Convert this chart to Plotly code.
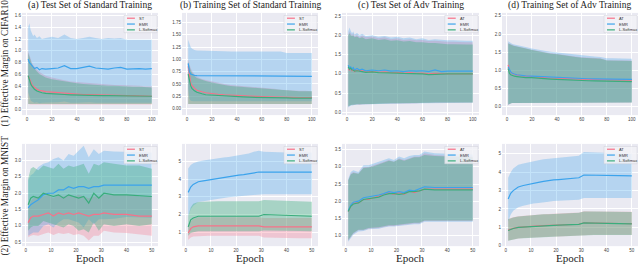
import plotly.graph_objects as go

# ---------------- data ----------------
EPOCH_TOP = [1, 2, 3, 4, 5, 6, 8, 10, 12, 15, 20, 25, 30, 35, 40, 45, 50, 55, 60, 65, 70, 75, 80, 85, 90, 95, 100]
EPOCH_BOT = [1, 2, 3, 5, 7, 9, 11, 13, 15, 17, 19, 21, 23, 25, 27, 29, 31, 35, 40, 45, 50]

TITLES = ["(a) Test Set of Standard Training", "(b) Training Set of Standard Training",
          "(c) Test Set of Adv Training", "(d) Training Set of Adv Training"]
ROW_LABELS = ["(1) Effective Margin on CIFAR10", "(2) Effective Margin on MNIST"]
X_LABEL = "Epoch"
NAMES_STD = ["ST", "EMR", "L-Softmax"]
NAMES_ADV = ["AT", "EMR", "L-Softmax"]

# panel (a)
a_st_mean = [0.58,0.52,0.47,0.43,0.40,0.38,0.35,0.33,0.32,0.31,0.30,0.29,0.28,0.28,0.27,0.26,0.26,0.255,0.25,0.25,0.25,0.245,0.24,0.24,0.24,0.235,0.23]
a_st_up   = [1.00,0.92,0.85,0.80,0.76,0.73,0.68,0.64,0.61,0.58,0.55,0.52,0.50,0.48,0.47,0.46,0.45,0.44,0.44,0.43,0.42,0.42,0.42,0.41,0.41,0.40,0.40]
a_st_lo   = [0.10,0.09,0.09,0.09,0.09,0.09,0.09,0.09,0.09,0.09,0.09,0.09,0.09,0.09,0.09,0.09,0.09,0.09,0.09,0.09,0.09,0.09,0.09,0.09,0.09,0.09,0.09]
a_emr_mean = [0.86,0.80,0.78,0.75,0.73,0.70,0.72,0.68,0.70,0.69,0.70,0.71,0.75,0.70,0.70,0.72,0.74,0.71,0.70,0.69,0.71,0.72,0.69,0.70,0.70,0.69,0.70]
a_emr_up   = [1.40,1.47,1.35,1.30,1.25,1.28,1.22,1.25,1.20,1.22,1.24,1.22,1.28,1.22,1.20,1.22,1.24,1.22,1.20,1.22,1.21,1.22,1.19,1.19,1.19,1.19,1.19]
a_emr_lo   = [0.30,0.20,0.16,0.14,0.13,0.12,0.13,0.11,0.12,0.12,0.12,0.13,0.14,0.12,0.12,0.13,0.13,0.12,0.12,0.12,0.12,0.12,0.11,0.12,0.12,0.11,0.12]
a_ls_mean = [0.58,0.50,0.44,0.40,0.37,0.35,0.32,0.30,0.29,0.28,0.27,0.265,0.26,0.255,0.25,0.25,0.25,0.245,0.24,0.24,0.24,0.24,0.24,0.235,0.23,0.23,0.23]
a_ls_up   = [0.97,0.90,0.82,0.77,0.73,0.70,0.65,0.61,0.58,0.55,0.52,0.50,0.48,0.46,0.45,0.44,0.43,0.42,0.42,0.41,0.41,0.40,0.40,0.39,0.39,0.39,0.38]
a_ls_lo   = [0.10,0.10,0.10,0.10,0.10,0.10,0.10,0.10,0.10,0.10,0.10,0.10,0.10,0.10,0.10,0.10,0.10,0.10,0.10,0.10,0.10,0.10,0.10,0.10,0.10,0.10,0.10]

# panel (b)
b_st_mean = [0.86,0.62,0.52,0.47,0.43,0.41,0.37,0.35,0.34,0.32,0.30,0.29,0.28,0.27,0.26,0.255,0.25,0.245,0.24,0.235,0.23,0.23,0.225,0.225,0.22,0.22,0.22]
b_st_up   = [1.01,0.90,0.82,0.77,0.72,0.69,0.65,0.62,0.60,0.58,0.55,0.52,0.50,0.48,0.47,0.45,0.44,0.43,0.42,0.41,0.40,0.38,0.37,0.37,0.36,0.36,0.35]
b_st_lo   = [0.09,0.09,0.09,0.09,0.09,0.09,0.09,0.09,0.09,0.09,0.09,0.09,0.09,0.09,0.09,0.09,0.09,0.09,0.09,0.09,0.09,0.09,0.09,0.09,0.09,0.09,0.09]
b_emr_mean = [0.92,0.75,0.70,0.69,0.68,0.675,0.67,0.67,0.665,0.665,0.665,0.665,0.66,0.66,0.66,0.66,0.66,0.66,0.66,0.66,0.66,0.66,0.655,0.655,0.655,0.655,0.655]
b_emr_up   = [1.40,1.30,1.25,1.22,1.20,1.19,1.18,1.18,1.17,1.17,1.17,1.165,1.165,1.16,1.16,1.16,1.16,1.16,1.16,1.16,1.16,1.16,1.13,1.13,1.13,1.13,1.13]
b_emr_lo   = [0.40,0.20,0.16,0.15,0.15,0.15,0.15,0.15,0.15,0.15,0.15,0.15,0.15,0.15,0.15,0.15,0.15,0.15,0.15,0.15,0.15,0.15,0.15,0.15,0.15,0.15,0.15]
b_ls_mean = [0.70,0.55,0.46,0.41,0.38,0.36,0.33,0.31,0.30,0.28,0.27,0.26,0.25,0.245,0.24,0.235,0.23,0.23,0.225,0.22,0.22,0.215,0.215,0.21,0.21,0.21,0.21]
b_ls_up   = [0.95,0.85,0.78,0.73,0.69,0.66,0.62,0.60,0.58,0.56,0.53,0.50,0.48,0.46,0.45,0.44,0.43,0.42,0.41,0.40,0.39,0.37,0.36,0.36,0.35,0.35,0.35]
b_ls_lo   = [0.09,0.09,0.09,0.09,0.09,0.09,0.09,0.09,0.09,0.09,0.09,0.09,0.09,0.09,0.09,0.09,0.09,0.09,0.09,0.09,0.09,0.09,0.09,0.09,0.09,0.09,0.09]

# panel (c)
c_at_mean = [1.12,1.10,1.14,1.08,1.12,1.06,1.10,1.07,1.09,1.05,1.06,1.04,1.05,1.03,1.04,1.02,1.03,1.01,1.02,1.00,1.01,1.00,1.00,1.00,1.00,1.00,1.00]
c_at_up   = [2.00,2.10,2.05,2.00,2.05,1.98,2.02,1.95,2.00,1.95,1.97,1.92,1.95,1.90,1.92,1.88,1.90,1.87,1.88,1.85,1.86,1.84,1.83,1.83,1.82,1.82,1.82]
c_at_lo   = [0.15,0.18,0.20,0.20,0.19,0.20,0.21,0.20,0.21,0.22,0.22,0.23,0.23,0.23,0.24,0.24,0.24,0.24,0.25,0.25,0.25,0.25,0.25,0.26,0.26,0.26,0.26]
c_emr_mean = [1.22,1.15,1.18,1.12,1.16,1.10,1.14,1.10,1.12,1.08,1.10,1.08,1.10,1.07,1.08,1.06,1.08,1.07,1.08,1.06,1.10,1.06,1.07,1.07,1.07,1.07,1.07]
c_emr_up   = [2.10,2.20,2.12,2.05,2.10,2.02,2.06,2.00,2.04,1.98,2.00,1.96,1.98,1.94,1.96,1.92,1.94,1.90,1.92,1.88,1.90,1.88,1.87,1.87,1.86,1.86,1.86]
c_emr_lo   = [0.13,0.16,0.18,0.18,0.18,0.19,0.20,0.20,0.20,0.21,0.21,0.22,0.22,0.22,0.23,0.23,0.23,0.23,0.24,0.24,0.24,0.24,0.25,0.25,0.25,0.25,0.25]
c_ls_mean = [1.18,1.12,1.15,1.10,1.10,1.07,1.08,1.06,1.06,1.04,1.05,1.03,1.03,1.02,1.02,1.01,1.01,1.00,1.00,0.98,0.99,1.00,1.00,1.00,1.00,1.00,1.00]
c_ls_up   = [2.00,2.05,2.00,1.98,2.00,1.95,1.97,1.92,1.95,1.90,1.92,1.88,1.90,1.86,1.87,1.84,1.85,1.82,1.82,1.80,1.80,1.78,1.77,1.77,1.76,1.76,1.76]
c_ls_lo   = [0.16,0.18,0.20,0.20,0.20,0.21,0.21,0.21,0.22,0.22,0.22,0.23,0.23,0.24,0.24,0.24,0.25,0.25,0.25,0.25,0.26,0.26,0.26,0.26,0.26,0.26,0.26]

# panel (d)
d_at_mean = [1.15,1.00,0.95,0.92,0.90,0.89,0.87,0.86,0.85,0.84,0.82,0.81,0.80,0.79,0.78,0.775,0.77,0.765,0.76,0.755,0.75,0.75,0.74,0.74,0.735,0.735,0.73]
d_at_up   = [1.75,1.73,1.71,1.70,1.69,1.68,1.66,1.65,1.63,1.61,1.57,1.53,1.50,1.47,1.45,1.42,1.40,1.38,1.36,1.35,1.34,1.33,1.28,1.28,1.27,1.27,1.27]
d_at_lo   = [0.05,0.08,0.09,0.10,0.10,0.10,0.10,0.10,0.11,0.11,0.11,0.11,0.11,0.11,0.11,0.11,0.12,0.12,0.12,0.12,0.12,0.12,0.12,0.12,0.12,0.12,0.12]
d_emr_mean = [1.10,1.00,0.96,0.93,0.91,0.90,0.88,0.87,0.86,0.85,0.84,0.83,0.82,0.81,0.80,0.79,0.785,0.78,0.775,0.77,0.765,0.76,0.755,0.75,0.75,0.75,0.75]
d_emr_up   = [1.80,1.77,1.75,1.73,1.72,1.71,1.69,1.68,1.66,1.64,1.60,1.56,1.54,1.51,1.49,1.46,1.44,1.42,1.40,1.39,1.38,1.37,1.33,1.33,1.33,1.32,1.32]
d_emr_lo   = [0.05,0.08,0.09,0.10,0.10,0.10,0.10,0.10,0.11,0.11,0.11,0.11,0.11,0.11,0.11,0.11,0.12,0.12,0.12,0.12,0.12,0.12,0.12,0.12,0.12,0.12,0.12]
d_ls_mean = [1.05,0.92,0.88,0.86,0.85,0.84,0.83,0.82,0.81,0.80,0.80,0.78,0.77,0.76,0.75,0.74,0.73,0.725,0.72,0.715,0.71,0.705,0.70,0.70,0.695,0.69,0.69]
d_ls_up   = [1.74,1.72,1.70,1.69,1.68,1.67,1.65,1.64,1.62,1.60,1.56,1.52,1.49,1.46,1.44,1.41,1.39,1.37,1.35,1.34,1.33,1.32,1.27,1.27,1.26,1.26,1.26]
d_ls_lo   = [0.06,0.08,0.09,0.10,0.10,0.10,0.10,0.10,0.11,0.11,0.11,0.11,0.11,0.11,0.11,0.11,0.12,0.12,0.12,0.12,0.12,0.12,0.12,0.12,0.12,0.12,0.12]

# panel (a2) MNIST test, standard
a2_st_mean = [1.10,1.25,1.30,1.30,1.35,1.40,1.30,1.40,1.35,1.40,1.35,1.40,1.35,1.30,1.35,1.35,1.40,1.35,1.35,1.30,1.30]
a2_st_up   = [1.50,1.75,1.85,1.90,1.90,1.95,1.85,1.95,1.90,1.95,1.90,1.95,1.90,1.85,1.90,1.90,1.95,1.95,1.95,1.90,1.90]
a2_st_lo   = [0.65,0.70,0.72,0.70,0.75,0.80,0.72,0.78,0.75,0.78,0.72,0.75,0.70,0.55,0.70,0.70,0.85,0.80,0.78,0.75,0.70]
a2_emr_mean = [1.55,1.65,1.70,1.80,1.95,2.00,2.00,2.10,2.10,2.20,2.15,2.20,2.20,2.15,2.20,2.20,2.25,2.25,2.27,2.27,2.25]
a2_emr_up   = [2.40,2.55,2.60,2.80,2.90,2.95,3.05,3.10,3.00,3.20,3.15,3.30,3.45,3.10,3.35,3.20,3.30,3.28,3.27,3.27,3.25]
a2_emr_lo   = [0.70,0.75,0.80,0.80,1.00,1.05,0.95,1.10,1.20,1.20,1.15,1.10,0.95,1.20,1.05,1.20,1.20,1.22,1.27,1.27,1.25]
a2_ls_mean = [1.65,1.85,1.90,1.85,2.00,1.95,1.90,1.95,1.85,1.95,1.90,1.85,1.90,1.70,2.00,1.85,2.00,1.95,1.95,1.93,1.90]
a2_ls_up   = [2.45,2.75,2.80,2.70,2.85,2.80,2.75,2.90,2.75,2.85,2.80,2.85,2.90,2.60,2.90,2.85,2.95,2.90,2.85,2.85,2.75]
a2_ls_lo   = [0.85,0.95,1.00,1.00,1.15,1.10,1.05,1.00,0.95,1.05,1.00,0.85,0.90,0.80,1.10,0.85,1.05,1.00,1.05,1.00,1.05]

# panel (b2)
b2_st_mean = [0.95,1.20,1.30,1.35,1.35,1.35,1.35,1.35,1.35,1.35,1.35,1.35,1.35,1.35,1.35,1.35,1.30,1.30,1.30,1.30,1.30]
b2_st_up   = [1.30,1.60,1.75,1.85,1.85,1.85,1.85,1.85,1.85,1.85,1.85,1.85,1.85,1.85,1.85,1.85,1.80,1.80,1.80,1.80,1.80]
b2_st_lo   = [0.55,0.70,0.75,0.78,0.80,0.80,0.80,0.80,0.80,0.80,0.80,0.80,0.80,0.80,0.80,0.80,0.70,0.68,0.67,0.66,0.65]
b2_emr_mean = [3.25,3.55,3.70,3.85,3.90,3.95,4.00,4.05,4.10,4.15,4.18,4.22,4.25,4.30,4.35,4.40,4.40,4.40,4.40,4.40,4.40]
b2_emr_up   = [4.60,4.80,4.90,5.00,5.05,5.10,5.15,5.20,5.22,5.25,5.30,5.33,5.38,5.45,5.55,5.60,5.55,5.52,5.50,5.50,5.50]
b2_emr_lo   = [1.90,2.30,2.50,2.70,2.75,2.80,2.85,2.90,2.95,2.98,3.00,3.03,3.05,3.08,3.10,3.12,3.15,3.15,3.15,3.15,3.15]
b2_ls_mean = [1.30,1.70,1.80,1.90,1.90,1.90,1.90,1.90,1.90,1.90,1.90,1.90,1.90,1.90,1.90,1.90,2.00,1.97,1.95,1.92,1.90]
b2_ls_up   = [1.90,2.40,2.60,2.70,2.72,2.74,2.75,2.75,2.75,2.75,2.75,2.75,2.75,2.75,2.75,2.75,2.82,2.80,2.78,2.75,2.72]
b2_ls_lo   = [0.80,0.95,1.00,1.05,1.05,1.05,1.05,1.05,1.05,1.05,1.05,1.05,1.05,1.05,1.05,1.05,1.10,1.08,1.07,1.06,1.05]

# panel (c2)
c2_at_mean = [1.70,1.85,1.95,1.95,2.05,2.05,2.10,2.15,2.20,2.25,2.20,2.25,2.20,2.30,2.25,2.30,2.35,2.35,2.35,2.35,2.35]
c2_at_up   = [2.60,2.80,2.85,2.80,3.00,3.00,3.05,3.10,3.15,3.20,3.15,3.25,3.20,3.25,3.30,3.30,3.40,3.35,3.32,3.30,3.30]
c2_at_lo   = [0.85,0.95,1.05,1.15,1.15,1.20,1.20,1.22,1.25,1.28,1.28,1.30,1.30,1.33,1.35,1.35,1.42,1.42,1.42,1.42,1.42]
c2_emr_mean = [1.72,1.88,1.97,2.00,2.10,2.12,2.15,2.18,2.22,2.28,2.25,2.28,2.25,2.32,2.30,2.35,2.42,2.40,2.40,2.40,2.40]
c2_emr_up   = [2.65,2.85,2.90,2.85,3.05,3.05,3.10,3.15,3.22,3.25,3.20,3.30,3.25,3.32,3.35,3.35,3.45,3.40,3.38,3.36,3.36]
c2_emr_lo   = [0.82,0.92,1.02,1.12,1.13,1.18,1.18,1.20,1.23,1.26,1.26,1.28,1.28,1.31,1.33,1.33,1.40,1.40,1.40,1.40,1.40]
c2_ls_mean = [1.70,1.85,1.92,1.95,2.05,2.08,2.10,2.12,2.18,2.22,2.22,2.20,2.22,2.28,2.28,2.30,2.35,2.33,2.33,2.33,2.33]
c2_ls_up   = [2.60,2.78,2.82,2.80,2.97,2.98,3.02,3.08,3.12,3.18,3.15,3.22,3.18,3.24,3.28,3.28,3.35,3.32,3.30,3.28,3.28]
c2_ls_lo   = [0.87,0.97,1.07,1.17,1.17,1.22,1.22,1.24,1.27,1.30,1.30,1.32,1.32,1.35,1.37,1.37,1.44,1.44,1.44,1.44,1.44]

# panel (d2)
d2_at_mean = [0.85,0.92,0.95,1.00,1.03,1.06,1.07,1.08,1.10,1.11,1.12,1.13,1.14,1.15,1.16,1.17,1.25,1.23,1.22,1.21,1.20]
d2_at_up   = [1.45,1.50,1.55,1.60,1.63,1.67,1.70,1.71,1.72,1.73,1.75,1.76,1.77,1.78,1.79,1.80,1.88,1.87,1.86,1.85,1.85]
d2_at_lo   = [0.28,0.32,0.35,0.40,0.42,0.44,0.45,0.46,0.47,0.48,0.50,0.51,0.52,0.53,0.54,0.55,0.60,0.60,0.60,0.60,0.60]
d2_emr_mean = [2.55,2.85,3.00,3.20,3.28,3.35,3.40,3.45,3.50,3.55,3.58,3.60,3.62,3.65,3.68,3.70,3.85,3.85,3.83,3.82,3.80]
d2_emr_up   = [3.70,4.00,4.20,4.40,4.48,4.55,4.60,4.65,4.70,4.73,4.77,4.80,4.82,4.85,4.87,4.90,5.10,5.08,5.06,5.04,5.00]
d2_emr_lo   = [1.30,1.70,1.90,2.10,2.18,2.25,2.30,2.33,2.38,2.40,2.43,2.45,2.46,2.48,2.49,2.50,2.60,2.60,2.60,2.60,2.60]
d2_ls_mean = [0.83,0.90,0.94,1.00,1.02,1.05,1.06,1.07,1.09,1.10,1.11,1.12,1.13,1.14,1.15,1.16,1.24,1.22,1.21,1.20,1.19]
d2_ls_up   = [1.44,1.49,1.54,1.59,1.62,1.66,1.69,1.70,1.71,1.72,1.74,1.75,1.76,1.77,1.78,1.79,1.87,1.86,1.85,1.84,1.84]
d2_ls_lo   = [0.27,0.31,0.34,0.39,0.41,0.43,0.44,0.45,0.46,0.47,0.49,0.50,0.51,0.52,0.53,0.54,0.59,0.59,0.59,0.59,0.59]

# ---------------- styling ----------------
LINE_COLORS = ["#f77189", "#3ba3ec", "#3aad7c"]
FILL_COLORS = ["rgba(247,113,137,0.30)", "rgba(59,163,236,0.30)", "rgba(58,173,124,0.38)"]
BG = "#eaeaf2"
SERIF = "Liberation Serif"
SANS = "Liberation Sans"

W, H = 640, 266
COLS_PX = [(22, 158), (182, 318), (342, 479), (502, 638)]
ROWS_PX = [(13, 116), (145, 248)]

panels = [
    dict(ep=EPOCH_TOP, names=NAMES_STD, s=[(a_st_mean, a_st_up, a_st_lo), (a_emr_mean, a_emr_up, a_emr_lo), (a_ls_mean, a_ls_up, a_ls_lo)],
         yr=[-0.09, 1.645], yt=[0.0, 0.2, 0.4, 0.6, 0.8, 1.0, 1.2, 1.4, 1.6], fmt=".1f"),
    dict(ep=EPOCH_TOP, names=NAMES_STD, s=[(b_st_mean, b_st_up, b_st_lo), (b_emr_mean, b_emr_up, b_emr_lo), (b_ls_mean, b_ls_up, b_ls_lo)],
         yr=[-0.135, 1.946], yt=[0.0, 0.25, 0.5, 0.75, 1.0, 1.25, 1.5, 1.75], fmt=".2f"),
    dict(ep=EPOCH_TOP, names=NAMES_ADV, s=[(c_at_mean, c_at_up, c_at_lo), (c_emr_mean, c_emr_up, c_emr_lo), (c_ls_mean, c_ls_up, c_ls_lo)],
         yr=[-0.07, 2.58], yt=[0.0, 0.5, 1.0, 1.5, 2.0, 2.5], fmt=".1f"),
    dict(ep=EPOCH_TOP, names=NAMES_ADV, s=[(d_at_mean, d_at_up, d_at_lo), (d_emr_mean, d_emr_up, d_emr_lo), (d_ls_mean, d_ls_up, d_ls_lo)],
         yr=[-0.23, 2.58], yt=[0.0, 0.5, 1.0, 1.5, 2.0, 2.5], fmt=".1f"),
    dict(ep=EPOCH_BOT, names=NAMES_STD, s=[(a2_st_mean, a2_st_up, a2_st_lo), (a2_emr_mean, a2_emr_up, a2_emr_lo), (a2_ls_mean, a2_ls_up, a2_ls_lo)],
         yr=[0.38, 3.51], yt=[0.5, 1.0, 1.5, 2.0, 2.5, 3.0], fmt=".1f"),
    dict(ep=EPOCH_BOT, names=NAMES_STD, s=[(b2_st_mean, b2_st_up, b2_st_lo), (b2_emr_mean, b2_emr_up, b2_emr_lo), (b2_ls_mean, b2_ls_up, b2_ls_lo)],
         yr=[0.21, 5.99], yt=[1, 2, 3, 4, 5], fmt="d"),
    dict(ep=EPOCH_BOT, names=NAMES_ADV, s=[(c2_at_mean, c2_at_up, c2_at_lo), (c2_emr_mean, c2_emr_up, c2_emr_lo), (c2_ls_mean, c2_ls_up, c2_ls_lo)],
         yr=[0.69, 3.67], yt=[1.0, 1.5, 2.0, 2.5, 3.0, 3.5], fmt=".1f"),
    dict(ep=EPOCH_BOT, names=NAMES_ADV, s=[(d2_at_mean, d2_at_up, d2_at_lo), (d2_emr_mean, d2_emr_up, d2_emr_lo), (d2_ls_mean, d2_ls_up, d2_ls_lo)],
         yr=[-0.02, 5.54], yt=[0, 1, 2, 3, 4, 5], fmt="d"),
]

fig = go.Figure()
layout = dict(width=W, height=H, margin=dict(l=0, r=0, t=0, b=0, pad=0), paper_bgcolor="white",
              plot_bgcolor=BG, showlegend=False, shapes=[], annotations=[])

for k, p in enumerate(panels):
    idx = k + 1
    r, c = divmod(k, 4)
    xa = "x" if idx == 1 else f"x{idx}"
    ya = "y" if idx == 1 else f"y{idx}"
    for j, (m, up, lo) in enumerate(p["s"]):
        fig.add_trace(go.Scatter(x=p["ep"], y=up, mode="lines", line=dict(width=0, color=LINE_COLORS[j]),
                                 xaxis=xa, yaxis=ya, hoverinfo="skip", showlegend=False))
        fig.add_trace(go.Scatter(x=p["ep"], y=lo, mode="lines", line=dict(width=0, color=LINE_COLORS[j]),
                                 fill="tonexty", fillcolor=FILL_COLORS[j],
                                 xaxis=xa, yaxis=ya, hoverinfo="skip", showlegend=False))
    for j, (m, up, lo) in enumerate(p["s"]):
        fig.add_trace(go.Scatter(x=p["ep"], y=m, mode="lines", name=p["names"][j],
                                 line=dict(width=1.2, color=LINE_COLORS[j]),
                                 xaxis=xa, yaxis=ya, showlegend=False))

    x0, x1 = COLS_PX[c]
    y0, y1 = ROWS_PX[r]
    top = r == 0
    xr = [-3.95, 104.95] if top else [-1.45, 52.45]
    xt = [0, 20, 40, 60, 80, 100] if top else [0, 10, 20, 30, 40, 50]
    ax_common = dict(showgrid=True, gridcolor="white", gridwidth=0.8, zeroline=False, showline=False,
                     ticks="", tickfont=dict(family=SANS, size=4.5, color="#444444"))
    layout["xaxis" if idx == 1 else f"xaxis{idx}"] = dict(
        domain=[x0 / W, x1 / W], range=xr, tickvals=xt, anchor=ya, **ax_common)
    if p["fmt"] == "d":
        ytext = [str(int(v)) for v in p["yt"]]
    else:
        ytext = [format(v, p["fmt"]) for v in p["yt"]]
    layout["yaxis" if idx == 1 else f"yaxis{idx}"] = dict(
        domain=[1 - y1 / H, 1 - y0 / H], range=p["yr"], tickvals=p["yt"], ticktext=ytext,
        anchor=xa, **ax_common)

    xd = f"{xa} domain"
    yd = f"{ya} domain"
    layout["shapes"].append(dict(type="rect", xref=xd, yref=yd, x0=0.75, x1=0.993, y0=0.806, y1=0.975,
                                 fillcolor="rgba(242,242,247,0.85)", line=dict(color="#d0d0d8", width=0.5)))
    rows_y = [0.948, 0.891, 0.834]
    for j, nm in enumerate(p["names"]):
        layout["shapes"].append(dict(type="line", xref=xd, yref=yd, x0=0.772, x1=0.83,
                                     y0=rows_y[j], y1=rows_y[j], line=dict(color=LINE_COLORS[j], width=1.2)))
        layout["annotations"].append(dict(xref=xd, yref=yd, x=0.845, y=rows_y[j], text=nm, showarrow=False,
                                          xanchor="left", yanchor="middle",
                                          font=dict(family=SANS, size=4, color="#333333")))

    cx = (x0 + x1) / 2 / W
    if top:
        layout["annotations"].append(dict(xref="paper", yref="paper", x=cx, y=1 - 6 / H, text=TITLES[c],
                                          showarrow=False, xanchor="center", yanchor="middle",
                                          font=dict(family=SERIF, size=9.5, color="#222222")))
    else:
        layout["annotations"].append(dict(xref="paper", yref="paper", x=cx, y=1 - 259.5 / H, text=X_LABEL,
                                          showarrow=False, xanchor="center", yanchor="middle",
                                          font=dict(family=SERIF, size=11, color="#222222")))

ROW_LABEL_CY = [64, 197]
for r in range(2):
    cy = 1 - ROW_LABEL_CY[r] / H
    layout["annotations"].append(dict(xref="paper", yref="paper", x=6 / W, y=cy, text=ROW_LABELS[r],
                                      showarrow=False, textangle=-90, xanchor="center", yanchor="middle",
                                      font=dict(family=SERIF, size=9.3, color="#222222")))

fig.update_layout(**layout)
fig.write_html("out.html", config={"displayModeBar": False},
               post_script="document.body.style.margin='0';document.body.style.overflow='hidden';")
